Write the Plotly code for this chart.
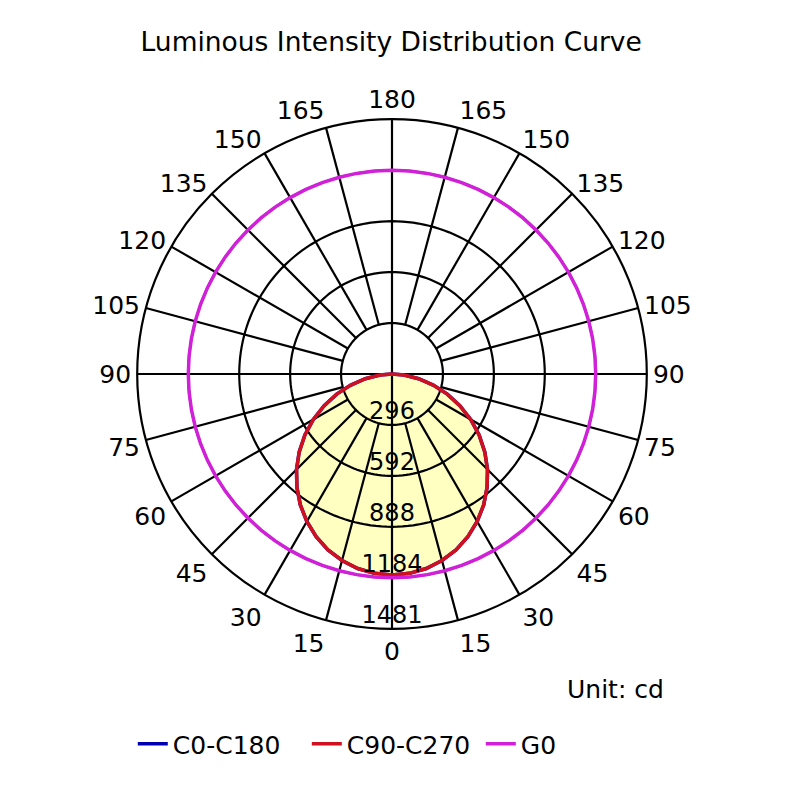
import plotly.graph_objects as go

# data (cd)
angles = [0, 5, 10, 15, 20, 25, 30, 35, 40, 45, 50, 55, 60, 65, 70, 75, 80, 85, 90]
c0_c180 = [1168, 1163, 1148, 1122, 1088, 1043, 990, 929, 860, 785, 704, 618, 528, 435, 342, 248, 157, 71, 0]
c90_c270 = [1168, 1163, 1148, 1122, 1088, 1043, 990, 929, 860, 785, 704, 618, 528, 435, 342, 248, 157, 71, 0]
g0_angles = list(range(0, 361, 5))
g0 = [1184] * len(g0_angles)

rings = [296, 592, 888, 1184, 1481]
ring_labels = ["296", "592", "888", "1184", "1481"]
spoke_angles = list(range(0, 360, 15))
tick_text = [str(a if a <= 180 else 360 - a) for a in spoke_angles]

def mirror(vals):
    # curve is symmetric about 0 deg: -90..90
    th = [-a for a in angles[::-1]] + angles[1:]
    r = vals[::-1] + vals[1:]
    return th, r

fig = go.Figure()

th, r = mirror(c90_c270)
fig.add_trace(go.Scatterpolar(r=r, theta=th, mode="none", fill="toself",
                              fillcolor="#FFFFC2", showlegend=False, hoverinfo="skip"))

# grid drawn as traces so it sits on top of the fill
ring_th = list(range(0, 361, 2))
for rv in rings[:-1]:
    fig.add_trace(go.Scatterpolar(r=[rv] * len(ring_th), theta=ring_th, mode="lines",
                                  line=dict(color="black", width=2.2), showlegend=False, hoverinfo="skip"))
sp_r, sp_th = [], []
for a in spoke_angles:
    start = 0 if a % 90 == 0 else rings[0]
    sp_r += [start, rings[-1], None]
    sp_th += [a, a, None]
fig.add_trace(go.Scatterpolar(r=sp_r, theta=sp_th, mode="lines",
                              line=dict(color="black", width=2.2), showlegend=False, hoverinfo="skip"))

th, r = mirror(c0_c180)
fig.add_trace(go.Scatterpolar(r=r, theta=th, mode="lines", name="C0-C180",
                              line=dict(color="#0000B0", width=3.5)))
th, r = mirror(c90_c270)
fig.add_trace(go.Scatterpolar(r=r, theta=th, mode="lines", name="C90-C270",
                              line=dict(color="#D01020", width=3.5)))
fig.add_trace(go.Scatterpolar(r=g0, theta=g0_angles, mode="lines", name="G0",
                              line=dict(color="#D020D8", width=3.5)))

fig.add_trace(go.Scatterpolar(r=rings, theta=[0] * len(rings), mode="text", text=ring_labels,
                              textposition="top center", textfont=dict(size=24, color="black"),
                              showlegend=False, hoverinfo="skip"))

fig.update_layout(
    width=800, height=800,
    paper_bgcolor="white",
    margin=dict(l=0, r=0, t=0, b=0),
    font=dict(family="DejaVu Sans", size=25, color="black"),
    title=dict(text="Luminous Intensity Distribution Curve", x=0.479, xanchor="center",
               y=0.958, yanchor="middle", font=dict(size=26.5)),
    polar=dict(
        domain=dict(x=[0.161, 0.799], y=[0.224, 0.861]),
        bgcolor="white",
        radialaxis=dict(range=[0, rings[-1]], showgrid=False, showline=False,
                        showticklabels=False, ticks=""),
        angularaxis=dict(rotation=270, direction="counterclockwise",
                         tickvals=spoke_angles, ticktext=tick_text, showgrid=False,
                         showline=True, linecolor="black", linewidth=2.2, ticks="",
                         tickfont=dict(size=25)),
    ),
    legend=dict(orientation="h", x=0.156, xanchor="left", y=0.08, yanchor="middle",
                entrywidth=129, entrywidthmode="pixels", font=dict(size=25)),
    annotations=[dict(text="Unit: cd", x=0.823, xanchor="right", y=0.148, yanchor="middle",
                      xref="paper", yref="paper", showarrow=False, font=dict(size=25))],
)

fig.write_html("out.html")
